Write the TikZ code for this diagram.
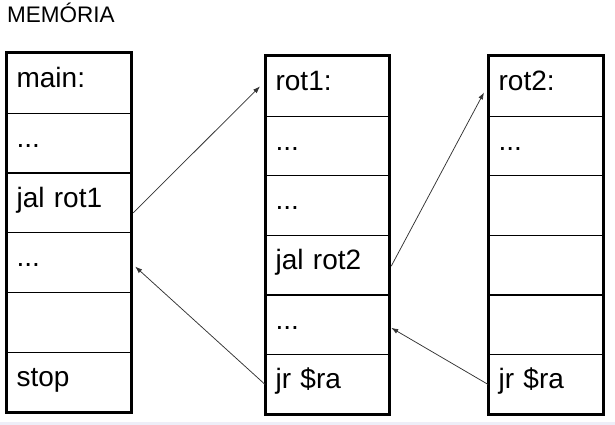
\documentclass[tikz,border=0pt]{standalone}
\usepackage{fontspec}
\setmainfont{Liberation Sans}
\usetikzlibrary{arrows.meta}

\tikzset{
	cell/.style={draw, line width=1.2pt, rectangle, anchor=north west, inner xsep=10pt, inner ysep=0pt, align=left, text height=34pt, font=\fontsize{28}{30}\selectfont},
	frame/.style={line width=3pt},
	jump/.style={draw={rgb,255:red,51;green,51;blue,51}, line width=0.75pt, -{Latex[length=7pt,width=5pt]}}
}

\begin{document}
\begin{tikzpicture}[x=1pt,y=1pt,yscale=-1,xscale=1]
	\useasboundingbox (0,0) rectangle (615,425);
	
	%Shape: Rectangle [bottom band]
	\fill [color={rgb, 255:red, 238; green, 238; blue, 248 }] (0,422) rectangle (615,425);
	
	% Text Node
	\draw (7,23) node [anchor=base west][inner sep=0pt][font=\fontsize{22.5}{24}\selectfont] (title) {MEMÓRIA};
	
	%Shape: Column [main]
	\node [cell, text width=104pt, text depth=25.7pt] (m1) at (6,53) {main:};
	\node [cell, text width=104pt, text depth=25.7pt] (m2) at (6,112.7) {...};
	\node [cell, text width=104pt, text depth=25.7pt] (m3) at (6,172.4) {jal rot1};
	\node [cell, text width=104pt, text depth=25.7pt] (m4) at (6,232.1) {...};
	\node [cell, text width=104pt, text depth=25.7pt] (m5) at (6,291.8) {};
	\node [cell, text width=104pt, text depth=25.7pt] (m6) at (6,351.5) {stop};
	\draw [frame] (m1.north west) rectangle (m6.south east);
	
	%Shape: Column [rot1]
	\node [cell, text width=103pt, text depth=25.6pt] (r1) at (265,56) {rot1:};
	\node [cell, text width=103pt, text depth=25.6pt] (r2) at (265,115.6) {...};
	\node [cell, text width=103pt, text depth=25.6pt] (r3) at (265,175.2) {...};
	\node [cell, text width=103pt, text depth=25.6pt] (r4) at (265,234.8) {jal rot2};
	\node [cell, text width=103pt, text depth=25.6pt] (r5) at (265,294.4) {...};
	\node [cell, text width=103pt, text depth=25.6pt] (r6) at (265,354) {jr \$ra};
	\draw [frame] (r1.north west) rectangle (r6.south east);
	
	%Shape: Column [rot2]
	\node [cell, text width=94pt, text depth=25.6pt] (q1) at (488,56) {rot2:};
	\node [cell, text width=94pt, text depth=25.6pt] (q2) at (488,115.6) {...};
	\node [cell, text width=94pt, text depth=25.6pt] (q3) at (488,175.2) {};
	\node [cell, text width=94pt, text depth=25.6pt] (q4) at (488,234.8) {};
	\node [cell, text width=94pt, text depth=25.6pt] (q5) at (488,294.4) {};
	\node [cell, text width=94pt, text depth=25.6pt] (q6) at (488,354) {jr \$ra};
	\draw [frame] (q1.north west) rectangle (q6.south east);
	
	%Straight Lines [calls and returns]
	\draw [jump] ([xshift=2pt,yshift=10pt]m3.east) -- ([xshift=-5pt]r1.west);
	\draw [jump] (r6.west) -- ([xshift=4pt,yshift=4pt]m4.east);
	\draw [jump] ([xshift=2pt,yshift=1pt]r4.east) -- ([xshift=-4pt,yshift=6pt]q1.west);
	\draw [jump] (q6.west) -- ([xshift=2pt,yshift=3pt]r5.east);
	
\end{tikzpicture}
\end{document}
